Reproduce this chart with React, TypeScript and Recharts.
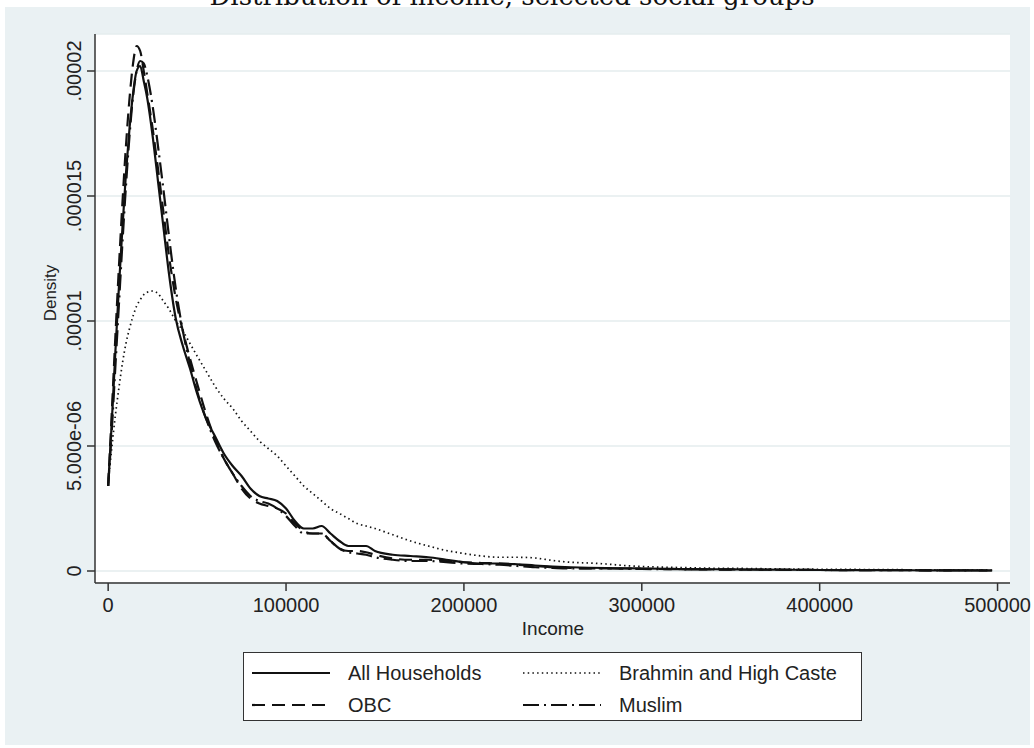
import { LineChart, Line, XAxis, YAxis, CartesianGrid } from 'recharts';

// income grid (rupees) shared by the four kernel density estimates
const INCOME = [
  0, 2000, 4000, 6000, 8000, 10000, 12000, 14000, 16000, 18000, 20000, 22000, 25000, 28000, 31000, 34000,
  38000, 42000, 46000, 50000, 55000, 60000, 65000, 70000, 75000, 80000, 85000, 90000, 95000, 100000,
  105000, 110000, 115000, 120000, 125000, 130000, 135000, 140000, 145000, 150000, 160000, 170000, 180000,
  190000, 200000, 210000, 220000, 230000, 240000, 250000, 260000, 270000, 280000, 290000, 300000, 320000,
  340000, 360000, 380000, 400000, 425000, 450000, 475000, 497000,
];

// densities, in units of 1e-6
const ALL_HH = [
  3.4, 5.9, 8.7, 11.3, 13.7, 15.9, 17.7, 19.1, 20.0, 20.2, 19.6, 18.9, 17.4, 15.6, 13.8, 12.0,
  10.1, 9.0, 8.1, 7.1, 6.1, 5.4, 4.7, 4.2, 3.8, 3.3, 3.0, 2.9, 2.8, 2.5,
  2.0, 1.7, 1.7, 1.8, 1.5, 1.2, 1.0, 1.0, 1.0, 0.8, 0.65, 0.6, 0.55,
  0.45, 0.35, 0.3, 0.3, 0.27, 0.22, 0.18, 0.15, 0.13, 0.12, 0.11, 0.1, 0.08,
  0.07, 0.06, 0.05, 0.04, 0.035, 0.03, 0.025, 0.02,
];

const OBC = [
  3.4, 6.3, 9.3, 12.1, 14.7, 17.0, 18.9, 20.3, 21.0, 20.8, 20.0, 19.1, 17.7, 16.1, 14.4, 12.7,
  10.9, 9.6, 8.5, 7.5, 6.3, 5.3, 4.5, 3.9, 3.3, 2.9, 2.7, 2.6, 2.5, 2.3,
  1.9, 1.6, 1.5, 1.5, 1.2, 0.9, 0.8, 0.8, 0.75, 0.65, 0.5, 0.45, 0.45,
  0.4, 0.35, 0.32, 0.3, 0.25, 0.2, 0.15, 0.12, 0.1, 0.1, 0.1, 0.09, 0.07,
  0.06, 0.05, 0.05, 0.04, 0.035, 0.03, 0.025, 0.02,
];

const BRAHMIN = [
  3.5, 4.9, 6.2, 7.3, 8.3, 9.1, 9.7, 10.2, 10.6, 10.85, 11.05, 11.15, 11.2, 11.1, 10.8, 10.5,
  10.0, 9.6, 9.1, 8.6, 8.0, 7.4, 6.9, 6.5, 6.0, 5.6, 5.2, 4.9, 4.6, 4.2,
  3.8, 3.4, 3.1, 2.8, 2.5, 2.3, 2.1, 1.9, 1.8, 1.7, 1.45, 1.2, 1.0,
  0.82, 0.7, 0.6, 0.55, 0.55, 0.52, 0.42, 0.35, 0.32, 0.28, 0.22, 0.18, 0.14,
  0.11, 0.1, 0.08, 0.07, 0.06, 0.05, 0.04, 0.03,
];

const MUSLIM = [
  3.4, 5.6, 8.1, 10.6, 13.1, 15.4, 17.4, 19.0, 20.0, 20.4, 20.3, 19.8, 18.6, 17.0, 15.3, 13.5,
  11.3, 9.6, 8.3, 7.2, 6.1, 5.2, 4.5, 3.9, 3.4, 3.0, 2.8, 2.7, 2.5, 2.2,
  1.8, 1.5, 1.5, 1.5, 1.2, 0.9, 0.75, 0.7, 0.65, 0.55, 0.45, 0.4, 0.4,
  0.35, 0.3, 0.28, 0.25, 0.2, 0.15, 0.12, 0.1, 0.1, 0.1, 0.09, 0.08, 0.07,
  0.06, 0.06, 0.05, 0.04, 0.035, 0.03, 0.025, 0.02,
];

const X_TICKS = [0, 100000, 200000, 300000, 400000, 500000];
const Y_TICKS = [0, 5, 10, 15, 20];
const Y_TICK_LABELS = ['0', '5.000e-06', '.00001', '.000015', '.00002'];

const SERIES = [
  { key: 'all', name: 'All Households', dash: undefined, width: 2.2 },
  { key: 'obc', name: 'OBC', dash: '13 7', width: 2.2 },
  { key: 'brahmin', name: 'Brahmin and High Caste', dash: '1.5 3.2', width: 1.7 },
  { key: 'muslim', name: 'Muslim', dash: '16 5 2 5', width: 2.2 },
];

const data = INCOME.map((x, i) => ({
  x,
  all: ALL_HH[i],
  obc: OBC[i],
  brahmin: BRAHMIN[i],
  muslim: MUSLIM[i],
}));

const FONT = '"Liberation Sans", Arial, Helvetica, sans-serif';
const BG = '#eaf1f3';
const INK = '#222';

function YTick(props: any) {
  const { x, y, payload } = props;
  const label = Y_TICK_LABELS[Y_TICKS.indexOf(payload.value)];
  return (
    <text x={x} y={y} transform={`rotate(-90, ${x}, ${y})`} textAnchor="middle" fontSize={20} fill={INK} fontFamily={FONT}>
      {label}
    </text>
  );
}

function LegendSample({ dash, width }: { dash?: string; width: number }) {
  return (
    <svg width={80} height={10} style={{ display: 'block' }}>
      <line x1={0} y1={5} x2={78} y2={5} stroke="#111" strokeWidth={width} strokeDasharray={dash} />
    </svg>
  );
}

export default function App() {
  const cols = [
    [SERIES[0], SERIES[1]],
    [SERIES[2], SERIES[3]],
  ];
  return (
    <div style={{ position: 'absolute', left: 0, top: 0, width: 1034, height: 748, overflow: 'hidden', background: '#fff', fontFamily: FONT }}>
      <div style={{ position: 'absolute', left: 5, top: 7, width: 1025, height: 738, background: BG }} />
      <div
        style={{
          position: 'absolute', left: 0, top: -17, width: 1024, textAlign: 'center', whiteSpace: 'nowrap',
          fontFamily: '"DejaVu Serif", "Liberation Serif", serif', fontSize: 26, lineHeight: '26px', color: '#111',
        }}
      >
        Distribution of income, selected social groups
      </div>
      <div style={{ position: 'absolute', left: 0, top: 0 }}>
        <LineChart width={1034} height={748} data={data} margin={{ top: 34, right: 24, left: 35, bottom: 115 }}>
          <CartesianGrid vertical={false} fill="#ffffff" stroke="#e4ecee" strokeWidth={1.5} />
          <XAxis
            dataKey="x"
            type="number"
            domain={[-7400, 507000]}
            ticks={X_TICKS}
            allowDataOverflow
            height={50}
            tickSize={8}
            tickMargin={7}
            axisLine={{ stroke: '#333', strokeWidth: 1.5 }}
            tickLine={{ stroke: '#333', strokeWidth: 1.5 }}
            tick={{ fontSize: 20, fill: INK, fontFamily: FONT }}
            label={{
              content: () => (
                <text x={553} y={635} textAnchor="middle" fontSize={19} fill={INK} fontFamily={FONT}>
                  Income
                </text>
              ),
            }}
          />
          <YAxis
            type="number"
            domain={[-0.48, 21.48]}
            ticks={Y_TICKS}
            allowDataOverflow
            width={60}
            tickSize={8}
            tickMargin={6}
            axisLine={{ stroke: '#333', strokeWidth: 1.5 }}
            tickLine={{ stroke: '#333', strokeWidth: 1.5 }}
            tick={<YTick />}
            label={{
              content: () => (
                <text x={56} y={293} transform="rotate(-90, 56, 293)" textAnchor="middle" fontSize={17} fill={INK} fontFamily={FONT}>
                  Density
                </text>
              ),
            }}
          />
          {SERIES.map((s) => (
            <Line
              key={s.key}
              type="monotone"
              dataKey={s.key}
              name={s.name}
              stroke="#111"
              strokeWidth={s.width}
              strokeDasharray={s.dash}
              dot={false}
              activeDot={false}
              isAnimationActive={false}
            />
          ))}
        </LineChart>
      </div>
      <div
        style={{
          position: 'absolute', left: 243, top: 652, width: 619, height: 69, boxSizing: 'border-box',
          border: '1.5px solid #333', background: '#fff',
        }}
      >
        {cols.map((col, ci) => (
          <div key={ci} style={{ position: 'absolute', left: ci === 0 ? 8 : 279, top: 0 }}>
            {col.map((s, ri) => (
              <div key={s.key} style={{ position: 'absolute', top: ri === 0 ? 9 : 41, left: 0, display: 'flex', alignItems: 'center', height: 22, whiteSpace: 'nowrap' }}>
                <LegendSample dash={s.dash} width={s.width} />
                <span style={{ marginLeft: 16, fontSize: 20, color: INK }}>{s.name}</span>
              </div>
            ))}
          </div>
        ))}
      </div>
    </div>
  );
}
